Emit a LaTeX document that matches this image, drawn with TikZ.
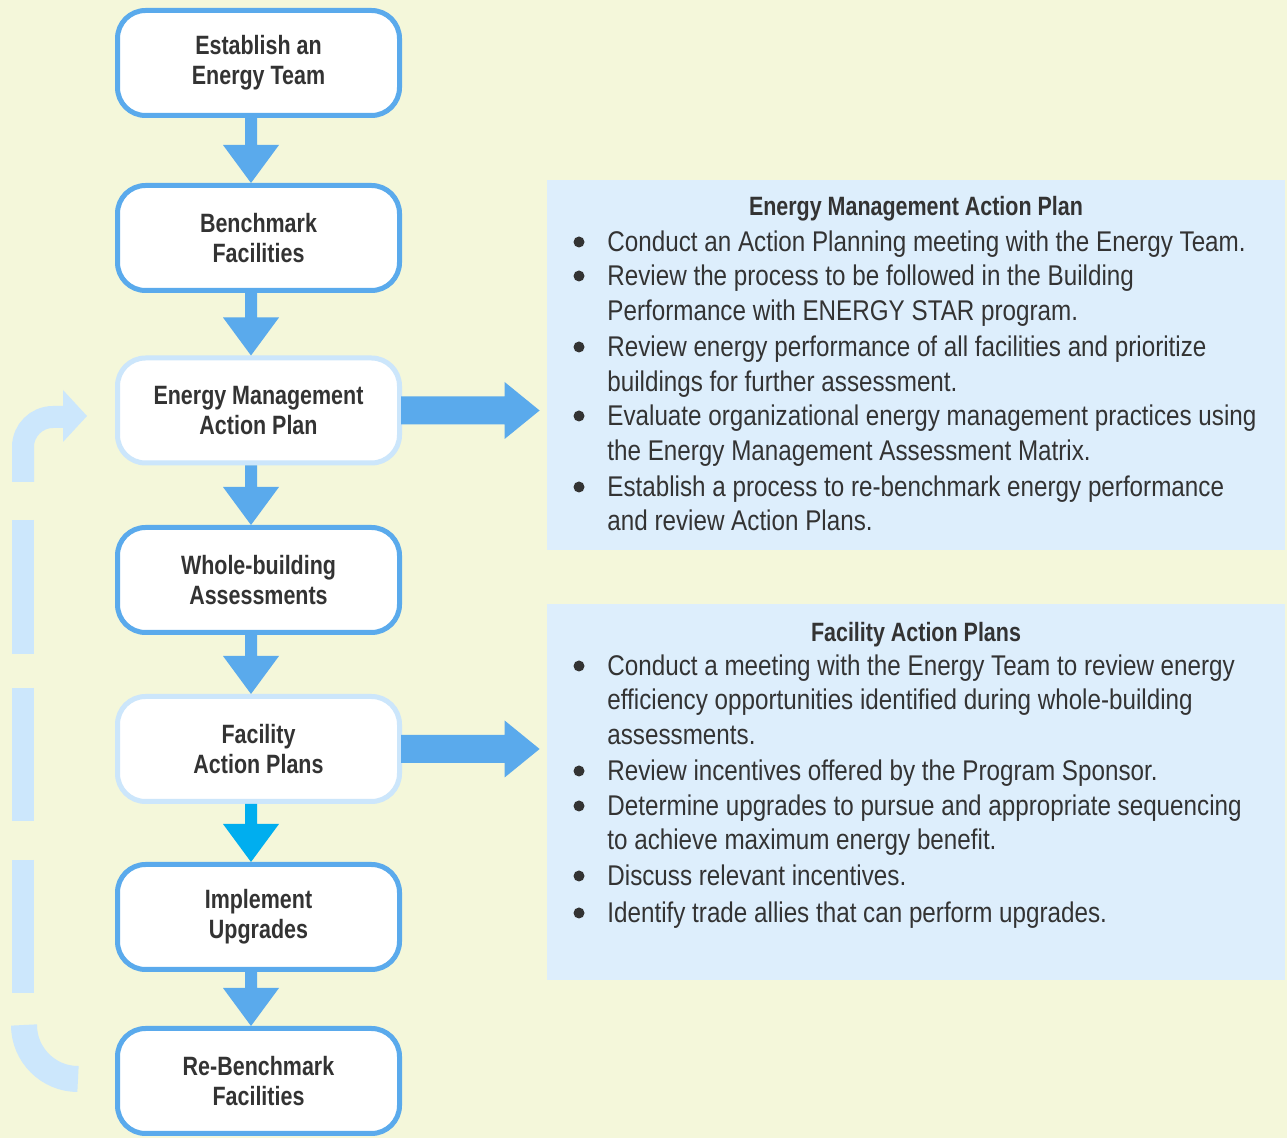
\documentclass[tikz,border=0pt]{standalone}
\usepackage{fontspec}
\setmainfont{Liberation Sans}
\newfontfamily\boxfont[FakeStretch=0.81]{Liberation Sans}
\newfontfamily\listfont[FakeStretch=0.85]{Liberation Sans}
\usetikzlibrary{calc}
\definecolor{bgc}{HTML}{F4F7DA}
\definecolor{panelc}{HTML}{DDEEFC}
\definecolor{darkb}{HTML}{5AAAEC}
\definecolor{lightb}{HTML}{CCE6FB}
\definecolor{cyanb}{HTML}{00AEEF}
\definecolor{retc}{HTML}{CCE7FC}
\definecolor{txt}{HTML}{333333}
\tikzset{
  stepbox/.style={draw=darkb, line width=2.5pt, fill=white, rounded corners=14pt,
    minimum width=141pt, minimum height=52.5pt, inner sep=0pt, align=center,
    text=txt, font=\boxfont\bfseries\fontsize{13.25pt}{15pt}\selectfont},
  lightbox/.style={stepbox, draw=lightb},
  panel/.style={fill=panelc, draw=none, inner sep=0pt},
  ptitle/.style={text=txt, font=\boxfont\bfseries\fontsize{13.25pt}{15pt}\selectfont, anchor=base, inner sep=0pt},
  pline/.style={text=txt, font=\listfont\fontsize{14.25pt}{17.5pt}\selectfont, anchor=base west, inner sep=0pt},
  ret/.style={draw=retc, line width=11pt},
}
% down arrow, centred 7.5px left of the box centre line
\newcommand\fatdown[3]{%
  \coordinate (s#1) at ($(#1.south)+(-7.5,0)$);
  \coordinate (e#1) at ($(#2.north)+(-7.5,0)$);
  \fill[#3] ($(s#1)+(-6,0)$) -- ($(e#1)+(-6,-38)$) -- ($(e#1)+(-28,-38)$)
    -- (e#1) -- ($(e#1)+(28,-38)$) -- ($(e#1)+(6,-38)$) -- ($(s#1)+(6,0)$) -- cycle;}
\newcommand\fatright[2]{%
  \coordinate (tip#1) at ($(#1.east -| #2.west)+(-7,0)$);
  \fill[darkb] ($(#1.east)+(-1,-14)$) -- ($(tip#1)+(-35,-14)$) -- ($(tip#1)+(-35,-28.5)$)
    -- (tip#1) -- ($(tip#1)+(-35,28.5)$) -- ($(tip#1)+(-35,14)$) -- ($(#1.east)+(-1,14)$) -- cycle;}
\begin{document}
\begin{tikzpicture}[x=0.5pt,y=-0.5pt]
\useasboundingbox (0,0) rectangle (1287,1138);
\fill[bgc] (0,0) rectangle (1287,1138);

% panels
\node[panel, minimum width=369pt, minimum height=185pt] (pan1) at (916,365) {};
\node[panel, minimum width=369pt, minimum height=188pt] (pan2) at (916,792) {};

% boxes
\node[stepbox] (b1) at (258.5,63) {Establish an\\Energy Team};
\node[stepbox] (b2) at (258.5,238) {Benchmark\\Facilities};
\node[lightbox] (b3) at (258.5,410.5) {Energy Management\\Action Plan};
\node[stepbox] (b4) at (258.5,580) {Whole-building\\Assessments};
\node[lightbox] (b5) at (258.5,749) {Facility\\Action Plans};
\node[stepbox] (b6) at (258.5,917) {Implement\\Upgrades};
\node[stepbox] (b7) at (258.5,1081) {Re-Benchmark\\Facilities};

% down arrows
\fatdown{b1}{b2}{darkb}
\fatdown{b2}{b3}{darkb}
\fatdown{b3}{b4}{darkb}
\fatdown{b4}{b5}{darkb}
\fatdown{b5}{b6}{cyanb}
\fatdown{b6}{b7}{darkb}

% right arrows
\fatright{b3}{pan1}
\fatright{b5}{pan2}

% return arrow (dashed, light)
\draw[ret, rounded corners=15pt] (23,482) -- (23,417) -- (64,417);
\fill[retc] (63,390) -- (87,416) -- (63,442) -- cycle;
\draw[ret] (23,520) -- (23,654);
\draw[ret] (23,688) -- (23,821);
\draw[ret] (23,860) -- (23,993);
\draw[ret, line width=13pt] (24,1025) arc (180:90:54);

% panel 1 text
\node[ptitle] (t1) at (916,216) {Energy Management Action Plan};
\foreach \y/\b/\t [count=\i] in {
  252/1/{Conduct an Action Planning meeting with the Energy Team.},
  286/1/{Review the process to be followed in the Building},
  321/0/{Performance with ENERGY STAR program.},
  357/1/{Review energy performance of all facilities and prioritize},
  392/0/{buildings for further assessment.},
  426/1/{Evaluate organizational energy management practices using},
  461/0/{the Energy Management Assessment Matrix.},
  497/1/{Establish a process to re-benchmark energy performance},
  531/0/{and review Action Plans.}} {
  \node[pline] (pa\i) at (607,\y) {\t};
  \ifnum\b=1 \fill[txt] (579,\y-10) circle (5.5); \fi
}

% panel 2 text
\node[ptitle] (t2) at (916,642) {Facility Action Plans};
\foreach \y/\b/\t [count=\i] in {
  676/1/{Conduct a meeting with the Energy Team to review energy},
  710/0/{efficiency opportunities identified during whole-building},
  745/0/{assessments.},
  781/1/{Review incentives offered by the Program Sponsor.},
  816/1/{Determine upgrades to pursue and appropriate sequencing},
  850/0/{to achieve maximum energy benefit.},
  886/1/{Discuss relevant incentives.},
  923/1/{Identify trade allies that can perform upgrades.}} {
  \node[pline] (pb\i) at (607,\y) {\t};
  \ifnum\b=1 \fill[txt] (579,\y-10) circle (5.5); \fi
}
\end{tikzpicture}
\end{document}
